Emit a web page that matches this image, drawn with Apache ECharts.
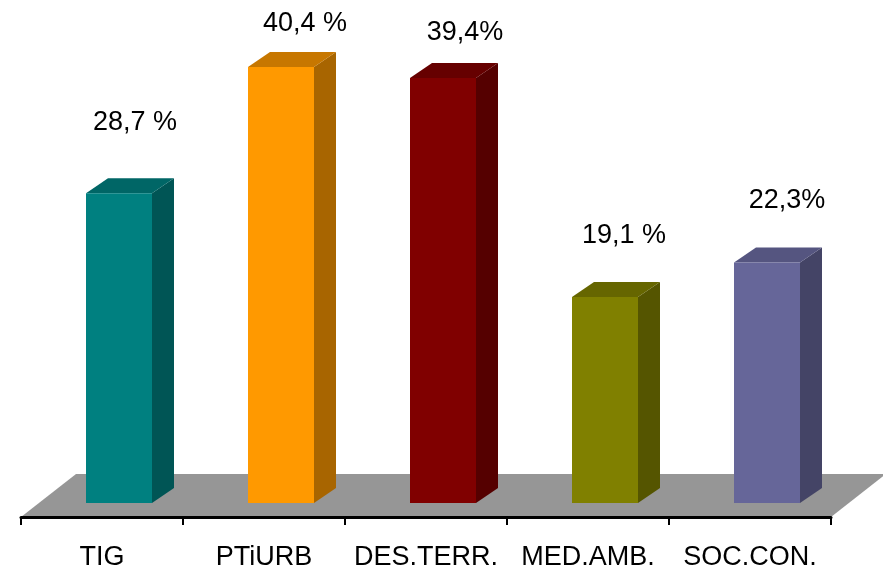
<!DOCTYPE html>
<html>
<head>
<meta charset="utf-8">
<title>Chart</title>
<style>
  html, body { margin: 0; padding: 0; background: #fff; }
  #chart { width: 883px; height: 570px; }
</style>
<script src="https://cdn.jsdelivr.net/npm/echarts@6/dist/echarts.min.js"></script>
</head>
<body>
<div id="chart"></div>
<script>
const categories = ['TIG', 'PTiURB', 'DES.TERR.', 'MED.AMB.', 'SOC.CON.'];
const values = [28.7, 40.4, 39.4, 19.1, 22.3];
const valueLabels = ['28,7 %', '40,4 %', '39,4%', '19,1 %', '22,3%'];

// front / side / top shade of each bar
const frontColors = ['#008080', '#ff9900', '#800000', '#808000', '#666699'];
const sideColors = ['#005555', '#a86500', '#550000', '#555500', '#444466'];
const topColors = ['#006666', '#c77700', '#660000', '#666600', '#555580'];

// label position relative to the top front edge of the bar, in px
const labelDx = [16, 24, 22, 19, 20];
const labelDy = [71, 44, 45, 61, 62];

const barWidth = 66;
const barShift = 17;
const depthX = 22;
const depthY = 15;
const floorDrop = 14;
const floorX = 55;
const floorY = 43;
const fontFamily = '"Liberation Sans", Arial, sans-serif';

const chart = echarts.init(document.getElementById('chart'));

const renderFloor = (params, api) => {
    const cs = params.coordSys;
    const front = cs.y + cs.height + floorDrop;
    return {
        type: 'polygon',
        shape: {
            points: [
                [cs.x, front],
                [cs.x + floorX, front - floorY],
                [cs.x + cs.width + floorX, front - floorY],
                [cs.x + cs.width, front]
            ]
        },
        style: { fill: '#969696' }
    };
};

const renderBar = (params, api) => {
    const i = params.dataIndex;
    const top = api.coord([api.value(0), api.value(1)]);
    const base = api.coord([api.value(0), 0]);
    const left = top[0] - barWidth / 2 + barShift;
    const right = left + barWidth;
    return {
        type: 'group',
        children: [
            {
                type: 'polygon',
                shape: {
                    points: [[right, top[1]], [right + depthX, top[1] - depthY], [right + depthX, base[1] - depthY], [right, base[1]]]
                },
                style: { fill: sideColors[i] }
            },
            {
                type: 'polygon',
                shape: {
                    points: [[left, top[1]], [left + depthX, top[1] - depthY], [right + depthX, top[1] - depthY], [right, top[1]]]
                },
                style: { fill: topColors[i] }
            },
            {
                type: 'rect',
                shape: { x: left, y: top[1], width: barWidth, height: base[1] - top[1] },
                style: { fill: frontColors[i] }
            },
            {
                type: 'text',
                x: left + barWidth / 2 + labelDx[i],
                y: top[1] - labelDy[i],
                style: {
                    text: valueLabels[i],
                    fill: '#000',
                    font: '27px ' + fontFamily,
                    textAlign: 'center',
                    textVerticalAlign: 'middle'
                }
            }
        ]
    };
};

chart.setOption({
    animation: false,
    backgroundColor: '#fff',
    grid: { left: 21, width: 810, top: 3, height: 500, outerBoundsMode: 'none' },
    xAxis: {
        type: 'category',
        data: categories,
        offset: floorDrop,
        z: 5,
        axisLine: { onZero: false, lineStyle: { color: '#000', width: 3 } },
        axisTick: { show: true, length: 8, lineStyle: { color: '#000', width: 2 } },
        axisLabel: {
            interval: 0,
            margin: 27,
            color: '#000',
            fontSize: 27,
            fontFamily: fontFamily
        }
    },
    yAxis: { type: 'value', min: 0, max: 46.34, show: false },
    series: [
        {
            type: 'custom',
            silent: true,
            z: 1,
            clip: false,
            renderItem: renderFloor,
            data: [0]
        },
        {
            type: 'custom',
            z: 2,
            clip: false,
            renderItem: renderBar,
            encode: { x: 0, y: 1 },
            data: values.map((v, i) => [i, v])
        }
    ]
});
</script>
</body>
</html>
